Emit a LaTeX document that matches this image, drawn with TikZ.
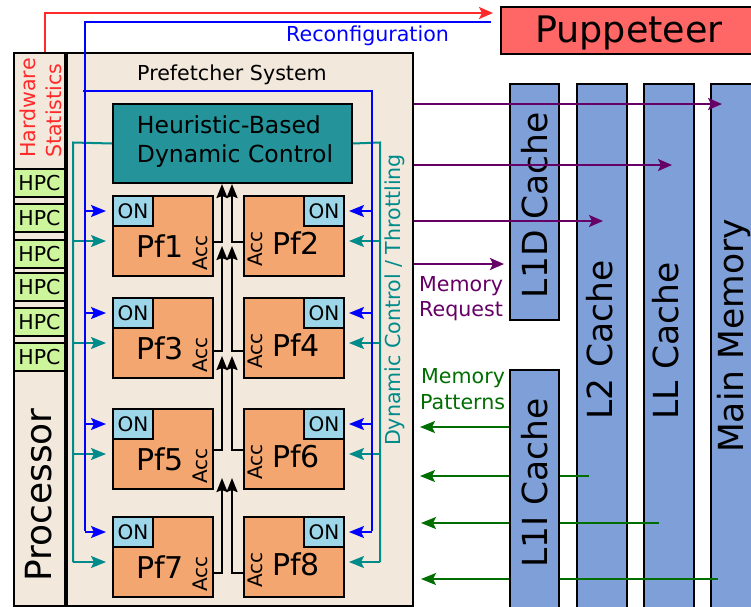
\documentclass[tikz,border=0pt]{standalone}
\usepackage{fontspec}
\setmainfont{DejaVu Sans}
\usetikzlibrary{arrows.meta,calc}
\definecolor{beige}{HTML}{F2E8DC}
\definecolor{pforange}{HTML}{F4A671}
\definecolor{onblue}{HTML}{9CD6E8}
\definecolor{hpcgreen}{HTML}{CCF59C}
\definecolor{heurteal}{HTML}{25939A}
\definecolor{ctlteal}{HTML}{008B8B}
\definecolor{cacheblue}{HTML}{7F9FD8}
\definecolor{pupred}{HTML}{FF6666}
\definecolor{hwred}{HTML}{FF2A2A}
\definecolor{reqpurple}{HTML}{660066}
\definecolor{patgreen}{HTML}{006E00}
\definecolor{cfgblue}{HTML}{0000FF}
\newcommand\myfs[2]{\fontsize{#1}{#2}\selectfont}
\begin{document}
\begin{tikzpicture}[x=1pt,y=-1pt,
  box/.style={draw=black,line width=2pt,inner sep=0pt,anchor=north west},
  pfbox/.style={box,fill=pforange,minimum width=100pt,minimum height=80pt},
  onbox/.style={box,fill=onblue,minimum width=40pt,minimum height=30pt,font=\myfs{20}{24}},
  hpcbox/.style={box,fill=hpcgreen,minimum width=51pt,minimum height=28pt,font=\myfs{20.5}{24}},
  cachebox/.style={box,fill=cacheblue,minimum width=49pt},
  cachetxt/.style={rotate=90,anchor=base,inner sep=0pt,font=\myfs{34.5}{40}},
  pflbl/.style={anchor=base,inner sep=0pt,font=\myfs{30}{36}},
  acclbl/.style={rotate=90,anchor=base west,inner sep=0pt,font=\myfs{20}{24}},
  lbl/.style={inner sep=0pt,font=\myfs{20.6}{24}},
  acc/.style={draw=black,line width=2pt,-{Stealth[length=14pt,width=11pt,inset=2pt]}},
  ctl/.style={draw=ctlteal,line width=2pt},
  ctlarr/.style={ctl,-{Stealth[length=15pt,width=12pt,inset=3pt]}},
  cfg/.style={draw=cfgblue,line width=2pt},
  cfgarr/.style={cfg,-{Stealth[length=15pt,width=12pt,inset=3pt]}},
  req/.style={draw=reqpurple,line width=2pt,-{Stealth[length=14pt,width=12pt,inset=3pt]}},
  pat/.style={draw=patgreen,line width=2pt,-{Stealth[length=15pt,width=12pt,inset=3pt]}},
]
\useasboundingbox (0,0) rectangle (751,606);

% processor column and prefetcher system
\node[box,fill=beige,minimum width=51pt,minimum height=553pt] (proc) at (13,52) {};
\node[box,fill=beige,minimum width=346pt,minimum height=553pt] (pfs) at (66,52) {};
\node[box,fill=beige,minimum width=51pt,minimum height=116pt] (hws) at (13,52) {};
\node[acclbl,text=hwred,font=\myfs{20.6}{24}] (hwt1) at (35,158) {Hardware};
\node[acclbl,text=hwred,font=\myfs{20.6}{24}] (hwt2) at (61,158) {Statistics};
\node[hpcbox] (hpc1) at (13,168) {HPC};
\node[hpcbox] (hpc2) at (13,203) {HPC};
\node[hpcbox] (hpc3) at (13,239) {HPC};
\node[hpcbox] (hpc4) at (13,272) {HPC};
\node[hpcbox] (hpc5) at (13,307) {HPC};
\node[hpcbox] (hpc6) at (13,342) {HPC};
\node[cachetxt,font=\myfs{36}{42}] (proct) at (51,495) {Processor};

\node[lbl,anchor=base] (pfst) at (232,80) {Prefetcher System};

% heuristic control
\node[box,fill=heurteal,minimum width=239pt,minimum height=79pt] (heur) at (112,103) {};
\node[lbl,font=\myfs{23.5}{29},align=left] (heurt) at (235,142) {Heuristic-Based\\Dynamic Control};

% prefetchers
\foreach \i/\j/\t in {1/2/195,3/4/297,5/6/408,7/8/516}{
  \node[pfbox] (pf\i) at (112,\t) {};
  \node[pfbox] (pf\j) at (243,\t) {};
  \node[onbox] (on\i) at (112,\t) {ON};
  \node[onbox] (on\j) at (303,\t) {ON};
  \node[pflbl] (pfl\i) at (160,\t+62) {Pf\i};
  \node[pflbl] (pfl\j) at (296,\t+59) {Pf\j};
  \node[acclbl] (acc\i) at (207,\t+76) {Acc};
  \node[acclbl] (acc\j) at (262,\t+72) {Acc};
}

% dynamic control / throttling (teal)
\draw[ctl] (heur.west) -- (73,142.5) -- (73,562);
\draw[ctl] (heur.east) -- (380,142.5) -- (380,562);
\foreach \i/\j/\t in {1/2/195,3/4/297,5/6/408,7/8/516}{
  \draw[ctlarr,shorten >=6pt] (73,\t+46) -- (pf\i.west |- 0,\t+46);
  \draw[ctlarr,shorten >=4pt] (380,\t+46) -- (pf\j.east |- 0,\t+46);
}

% reconfiguration (blue)
\coordinate (cfgstart) at (491,22);
\draw[cfg] (cfgstart) -- (85,22) -- (85,531);
\draw[cfg] (83,91) -- (372,91) -- (372,531);
\foreach \i/\j in {1/2,3/4,5/6,7/8}{
  \draw[cfgarr,shorten >=6pt] (85,0 |- on\i.west) -- (on\i.west);
  \draw[cfgarr,shorten >=4pt] (372,0 |- on\j.east) -- (on\j.east);
}
\node[lbl,anchor=base west,text=cfgblue] (cfgt) at (286,41) {Reconfiguration};

% accuracy arrows
\draw[acc] (pf1.east |- 0,242) -| (222,184);
\draw[acc] (pf2.west |- 0,242) -| (232,184);
\draw[acc] (pf3.east |- 0,351) -| (222,246);
\draw[acc] (pf4.west |- 0,351) -| (232,246);
\draw[acc] (pf5.east |- 0,450) -| (222,356);
\draw[acc] (pf6.west |- 0,450) -| (232,356);
\draw[acc] (pf7.east |- 0,573) -| (222,478);
\draw[acc] (pf8.west |- 0,573) -| (232,478);

% puppeteer
\node[box,fill=pupred,minimum width=255pt,minimum height=47pt] (pup) at (500,6) {};
\node[anchor=base,inner sep=0pt,font=\myfs{36.5}{44}] (pupt) at (629,42) {Puppeteer};
\draw[draw=hwred,line width=2pt,-{Stealth[length=14pt,width=12pt,inset=3pt]},shorten >=7pt] (45,52) -- (45,13) -- (pup.west |- 0,13);

% memory hierarchy
\node[cachebox,minimum height=236pt] (l1d) at (509,83) {};
\node[cachebox,minimum width=50pt,minimum height=530pt] (l2) at (576,83) {};
\node[cachebox,minimum width=50pt,minimum height=530pt] (ll) at (643,83) {};
\node[cachebox,minimum width=50pt,minimum height=530pt] (mm) at (710,83) {};
\node[cachetxt] (l2t) at (612,340) {L2 Cache};
\node[cachetxt] (llt) at (678,341) {LL Cache};
\node[cachetxt] (mmt) at (743,336) {Main Memory};
\node[cachetxt] (l1dt) at (547,205) {L1D Cache};

% memory requests (purple)
\draw[req] (pfs.east |- 0,104) -- (722,104);
\draw[req] (pfs.east |- 0,165) -- (672,165);
\draw[req] (pfs.east |- 0,221) -- (603,221);
\draw[req,shorten >=5pt] (pfs.east |- 0,264) -- (l1d.west |- 0,264);
\node[lbl,anchor=base west,text=reqpurple] (reqt1) at (419,291) {Memory};
\node[lbl,anchor=base west,text=reqpurple] (reqt2) at (419,316) {Request};

% memory patterns (green)
\draw[pat,shorten >=6pt] (509,427) -- (pfs.east |- 0,427);
\draw[pat,shorten >=6pt] (589,476) -- (pfs.east |- 0,476);
\draw[pat,shorten >=7pt] (659,523) -- (pfs.east |- 0,523);
\draw[pat,shorten >=7pt] (718,579) -- (pfs.east |- 0,579);
\node[lbl,anchor=base west,text=patgreen] (patt1) at (421,383) {Memory};
\node[lbl,anchor=base west,text=patgreen] (patt2) at (420,409) {Patterns};

\node[cachebox,minimum height=241pt] (l1i) at (509,369) {};
\node[cachetxt] (l1it) at (547,483) {L1I Cache};

% dynamic control label
\node[rotate=90,anchor=base,inner sep=0pt,font=\myfs{20.6}{24},text=ctlteal] (dctl) at (400,300) {Dynamic Control / Throttling};
\end{tikzpicture}
\end{document}
